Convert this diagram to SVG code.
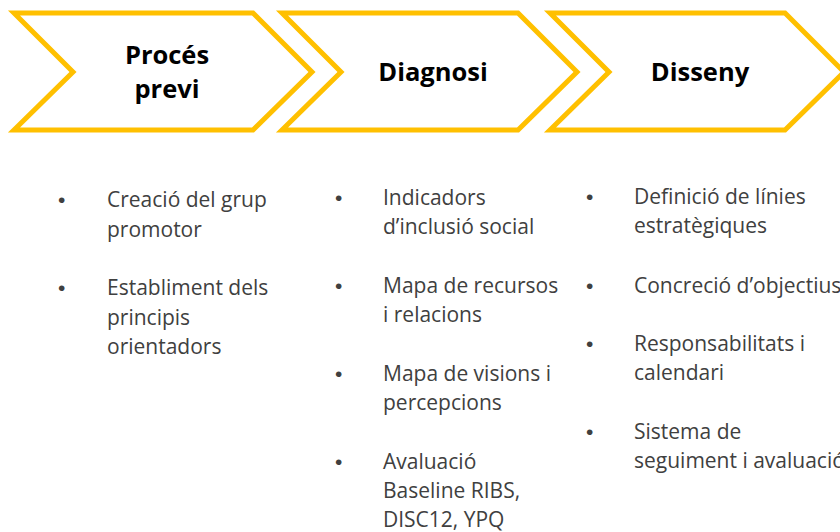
<svg xmlns="http://www.w3.org/2000/svg" width="840" height="532" viewBox="0 0 840 532">
<style>
.chev{fill:#FFFFFF;stroke:#FFC000;stroke-width:5;stroke-linejoin:miter}
.title{font-family:"Open Sans","Liberation Sans",sans-serif;font-weight:bold;font-size:25.5px;fill:#000000;text-anchor:middle}
.body{font-family:"Open Sans","Liberation Sans",sans-serif;font-size:21px;fill:#404040}
.bul{font-family:"Liberation Sans",sans-serif;font-size:21px;fill:#404040}
</style>
<rect width="840" height="532" fill="#FFFFFF"/>
<g id="step1">
<polygon class="chev" points="14,13 253,13 312,72 253,130 14,130 73,72"/>
<text class="title" x="167" y="64">Procés</text>
<text class="title" x="167" y="98">previ</text>
</g>
<g id="step2">
<polygon class="chev" points="282,13 518,13 577,72 518,130 282,130 341,72"/>
<text class="title" x="433" y="81">Diagnosi</text>
</g>
<g id="step3">
<polygon class="chev" points="550,13 785,13 844,72 785,130 550,130 609,72"/>
<text class="title" x="700" y="81">Disseny</text>
</g>
<g id="list1" class="body">
<text class="bul" x="58" y="207">•</text><text x="107" y="207">Creació del grup</text>
<text x="107" y="237">promotor</text>
<text class="bul" x="58" y="295">•</text><text x="107" y="295">Establiment dels</text>
<text x="107" y="325">principis</text>
<text x="107" y="354">orientadors</text>
</g>
<g id="list2" class="body">
<text class="bul" x="335" y="205">•</text><text x="383" y="205">Indicadors</text>
<text x="383" y="234">d’inclusió social</text>
<text class="bul" x="335" y="293">•</text><text x="383" y="293">Mapa de recursos</text>
<text x="383" y="322">i relacions</text>
<text class="bul" x="335" y="381">•</text><text x="383" y="381">Mapa de visions i</text>
<text x="383" y="410">percepcions</text>
<text class="bul" x="335" y="469">•</text><text x="383" y="469">Avaluació</text>
<text x="383" y="498">Baseline RIBS,</text>
<text x="383" y="527">DISC12, YPQ</text>
</g>
<g id="list3" class="body">
<text class="bul" x="586" y="204">•</text><text x="634" y="204">Definició de línies</text>
<text x="634" y="233">estratègiques</text>
<text class="bul" x="586" y="293">•</text><text x="634" y="293">Concreció d’objectius</text>
<text class="bul" x="586" y="351">•</text><text x="634" y="351">Responsabilitats i</text>
<text x="634" y="380">calendari</text>
<text class="bul" x="586" y="439">•</text><text x="634" y="439">Sistema de</text>
<text x="634" y="468">seguiment i avaluació</text>
</g>
</svg>
